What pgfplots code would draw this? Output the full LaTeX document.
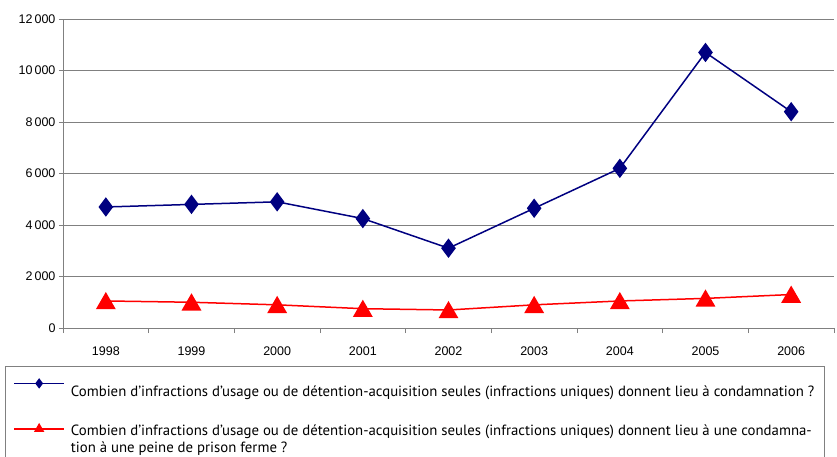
\documentclass[border=0pt]{standalone}
\usepackage{fontspec}
\setmainfont{Liberation Sans}
\newfontfamily\legfont{PT Sans}
\usepackage{pgfplots}
\pgfplotsset{compat=1.18}
\definecolor{navyb}{HTML}{000080}
\definecolor{gridg}{HTML}{808080}
\pgfplotsset{
  blueleg/.style={legend image code/.code={\draw[##1, mark size=4pt, mark options={solid}, mark repeat=2, mark phase=2, yshift=13pt] plot coordinates {(0pt,0pt)(25pt,0pt)(50pt,0pt)};}},
  redleg/.style={legend image code/.code={\draw[##1, mark size=4.5pt, mark options={solid}, mark repeat=2, mark phase=2, yshift=7pt] plot coordinates {(0pt,0pt)(25pt,0pt)(50pt,0pt)};}},
  noleg/.style={legend image code/.code={\path[draw=none] (0pt,0pt) -- (50pt,0pt);}},
}
\begin{document}
\begin{tikzpicture}
\useasboundingbox (-63pt,-128pt) rectangle (774pt,328pt);
\begin{axis}[
  at={(0,0)}, anchor=south west,
  scale only axis, width=771pt, height=309pt,
  xmin=-0.5, xmax=8.5, ymin=0, ymax=12000,
  axis lines=left, axis line style={-, gridg, line width=0.8pt},
  xtick={0,1,2,3,4,5,6,7,8},
  xticklabels={1998,1999,2000,2001,2002,2003,2004,2005,2006},
  xticklabel style={yshift=-11pt},
  major x tick style={draw=none},
  minor xtick={-0.5,0.5,1.5,2.5,3.5,4.5,5.5,6.5,7.5,8.5},
  minor x tick style={gridg, line width=0.8pt},
  ytick={0,2000,4000,6000,8000,10000,12000},
  scaled y ticks=false,
  y tick style={gridg, line width=0.8pt},
  tick align=outside, major tick length=4pt, minor tick length=5pt,
  ymajorgrids, major grid style={gridg, line width=0.8pt},
  tick label style={font=\fontsize{12.5}{14}\selectfont},
  /pgf/number format/.cd, 1000 sep={\,}, assume math mode=true, /pgfplots/.cd,
  legend style={at={(axis description cs:-0.07523,-0.1230)}, anchor=north west,
    draw=gridg, line width=0.8pt, font=\legfont\fontsize{14.8}{19}\selectfont,
    cells={anchor=base west, inner ysep=0pt, inner xsep=0pt}, row sep=0pt, inner xsep=8pt, inner ysep=13pt, column sep=4pt},
]
\addplot[navyb, line width=1.5pt, mark=diamond*, mark size=8.5pt, mark options={solid, fill=navyb}, blueleg]
  coordinates {(0,4700)(1,4800)(2,4900)(3,4250)(4,3100)(5,4650)(6,6200)(7,10700)(8,8400)};
\addlegendentry{\rule[-5pt]{0pt}{19pt}Combien d’infractions d’usage ou de détention-acquisition seules (infractions uniques) donnent lieu à condamnation~?}
\addplot[red, line width=1.5pt, mark=triangle*, mark size=10pt, mark options={solid, fill=red, yshift=-2.5pt}, redleg]
  coordinates {(0,1050)(1,1000)(2,900)(3,750)(4,700)(5,900)(6,1050)(7,1150)(8,1300)};
\addlegendentry{\rule[-5pt]{0pt}{39pt}Combien d’infractions d’usage ou de détention-acquisition seules (infractions uniques) donnent lieu à une condamna-}
\addlegendimage{noleg}
\addlegendentry{\rule[-5pt]{0pt}{15pt}tion à une peine de prison ferme~?}
\end{axis}
\end{tikzpicture}
\end{document}
